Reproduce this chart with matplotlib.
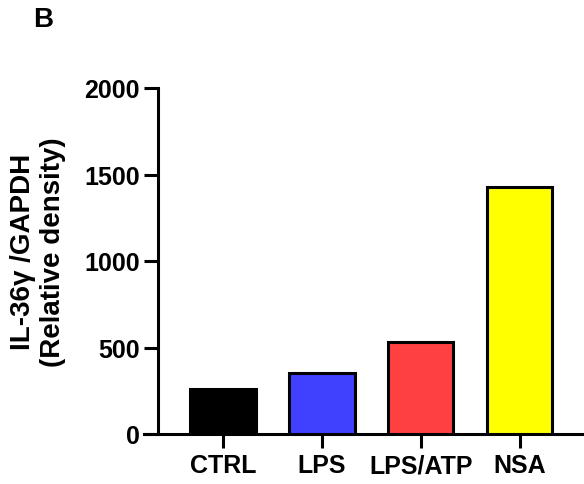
import matplotlib
matplotlib.use("Agg")
import matplotlib.pyplot as plt

# --- values ---
groups = ['CTRL', 'LPS', 'LPS/ATP', 'NSA']
density = [262, 355, 530, 1430]
colors = ['#000000', '#4040FF', '#FF4040', '#FFFF00']

plt.rcParams['font.family'] = ['Liberation Sans', 'DejaVu Sans']
plt.rcParams['font.weight'] = 'bold'

fig = plt.figure(figsize=(5.84, 4.85), dpi=100)
ax = fig.add_axes([144 / 584, 50 / 485, 440 / 584, 346 / 485])

x = list(range(len(groups)))
ax.bar(x, density, width=0.66, color=colors, edgecolor='black', linewidth=2.2, zorder=3)

ax.set_xlim(-0.8, 3.65)
ax.set_ylim(0, 2000)
ax.set_yticks([0, 500, 1000, 1500, 2000])
ax.set_xticks(x)
ax.set_xticklabels(groups)

for s in ['top', 'right']:
    ax.spines[s].set_visible(False)
ax.spines['left'].set_position(('data', -0.657))
ax.spines['left'].set_linewidth(2.2)
ax.spines['bottom'].set_linewidth(2.2)
ax.tick_params(axis='both', width=2.2, length=10)
ax.tick_params(axis='y', labelsize=18, pad=3)
ax.tick_params(axis='x', labelsize=18, pad=4)

fig.text(38 / 584, 1 - 252 / 485, 'IL-36γ /GAPDH\n(Relative density)', fontsize=20,
         fontweight='bold', rotation=90, ha='center', va='center', multialignment='center')

fig.text(33 / 584, 1 - 20 / 485, 'B', fontsize=20, fontweight='bold', va='center')

fig.savefig('out.png', dpi=100)
